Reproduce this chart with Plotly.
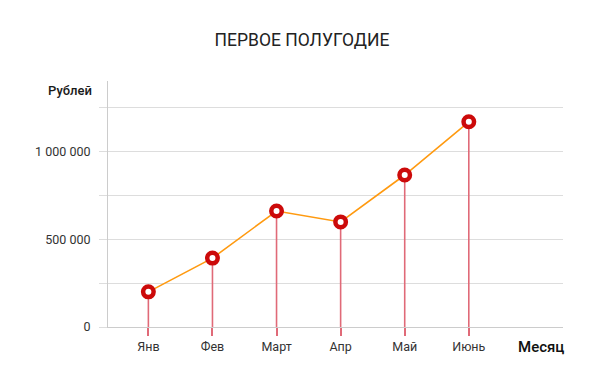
import plotly.graph_objects as go

months = ["Янв", "Фев", "Март", "Апр", "Май", "Июнь"]
values = [200000, 392000, 660000, 598000, 865000, 1168000]
y_tickvals = [0, 250000, 500000, 750000, 1000000, 1250000]
y_ticktext = ["0", "", "500 000", "", "1 000 000", ""]

stem_x, stem_y = [], []
for m, v in zip(months, values):
    stem_x += [m, m, None]
    stem_y += [0, v, None]

fig = go.Figure()
fig.add_trace(go.Scatter(x=stem_x, y=stem_y, mode="lines",
                         line=dict(color="#e06a78", width=1.6),
                         hoverinfo="skip", showlegend=False))
fig.add_trace(go.Scatter(x=months, y=values, mode="lines",
                         line=dict(color="#ff9a10", width=1.6),
                         showlegend=False))
fig.add_trace(go.Scatter(x=months, y=values, mode="markers",
                         marker=dict(size=10.5, color="white",
                                     line=dict(color="#cc0a0a", width=4.5)),
                         showlegend=False))

fig.update_layout(
    width=600, height=382,
    margin=dict(l=100, r=45, t=73, b=63),
    paper_bgcolor="white", plot_bgcolor="white",
    font=dict(family="Roboto", size=12, color="#333333"),
    title=dict(text="ПЕРВОЕ ПОЛУГОДИЕ", x=0.49, xref="container",
               y=1 - 32 / 382, yref="container", yanchor="middle",
               font=dict(family="Roboto", size=17.5, color="#222222")),
    xaxis=dict(type="category", range=[-0.63, 6.47], showgrid=False,
               showline=True, linecolor="#cccccc", linewidth=1,
               ticks="outside", ticklen=8, tickcolor="#e06a78", tickwidth=1.6,
               tickfont=dict(size=12.5, color="#333333"), zeroline=False,
               fixedrange=True),
    yaxis=dict(range=[0, 1400000], tickvals=y_tickvals, ticktext=y_ticktext,
               showgrid=True, gridcolor="#dddddd", gridwidth=1,
               showline=True, linecolor="#cccccc", linewidth=1,
               ticks="outside", ticklen=8, tickcolor="#dddddd",
               tickfont=dict(size=12.5, color="#333333"), zeroline=False,
               ticklabelstandoff=6),
    annotations=[
        dict(text="Рублей", xref="paper", yref="paper", x=-0.035, y=0.963,
             xanchor="right", yanchor="middle", showarrow=False, xshift=2,
             font=dict(family="Roboto Medium, Roboto", size=13, color="#1a1a1a")),
        dict(text="Месяц", xref="paper", yref="paper", x=1.0, y=-0.081,
             xanchor="right", yanchor="middle", showarrow=False, xshift=3,
             font=dict(family="Roboto Medium, Roboto", size=15, color="#111111")),
    ],
)

fig.write_html("out.html")
